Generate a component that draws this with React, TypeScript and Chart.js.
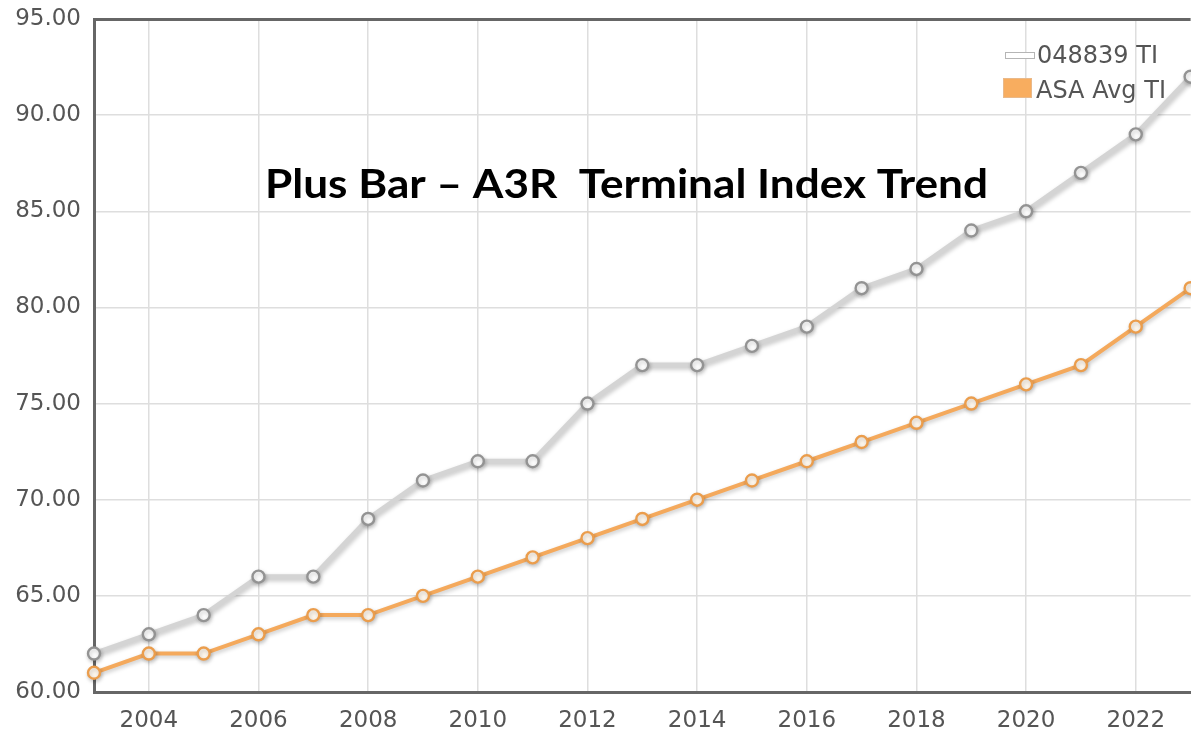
import React, { useEffect, useRef } from "react";
import { Chart, registerables } from "chart.js";

Chart.register(...registerables);

const years = [2003, 2004, 2005, 2006, 2007, 2008, 2009, 2010, 2011, 2012, 2013, 2014, 2015, 2016, 2017, 2018, 2019, 2020, 2021, 2022, 2023];
const seriesTI = [62, 63, 64, 66, 66, 69, 71, 72, 72, 75, 77, 77, 78, 79, 81, 82, 84, 85, 87, 89, 92];
const seriesAvg = [61, 62, 62, 63, 64, 64, 65, 66, 67, 68, 69, 70, 71, 72, 73, 74, 75, 76, 77, 79, 81];
const xTickYears = [2004, 2006, 2008, 2010, 2012, 2014, 2016, 2018, 2020, 2022];
const legendLabels = ["048839 TI", "ASA Avg TI"];
const titleText = "Plus Bar \u2013 A3R  Terminal Index Trend";

const FONT = "'DejaVu Sans', Verdana, sans-serif";

const shadowPlugin = {
  id: "lineShadow",
  beforeDatasetDraw(chart: any) {
    const ctx = chart.ctx;
    ctx.save();
    ctx.shadowColor = "rgba(0,0,0,0.22)";
    ctx.shadowBlur = 4;
    ctx.shadowOffsetX = 1;
    ctx.shadowOffsetY = 2;
  },
  afterDatasetDraw(chart: any) {
    chart.ctx.restore();
  },
};

const overlayPlugin = {
  id: "overlay",
  afterDraw(chart: any) {
    const ctx = chart.ctx;
    ctx.save();
    // Title
    ctx.font = "bold 41px Lato, 'Open Sans', sans-serif";
    ctx.fillStyle = "#000";
    ctx.textBaseline = "alphabetic";
    ctx.textAlign = "left";
    const w = ctx.measureText(titleText).width;
    const targetW = 723;
    ctx.save();
    ctx.translate(265, 198);
    ctx.scale(targetW / w, 1);
    ctx.fillText(titleText, 0, 0);
    ctx.restore();

    // Legend
    ctx.fillStyle = "#ffffff";
    ctx.fillRect(1005, 52, 30, 6);
    ctx.strokeStyle = "#b5b5b5";
    ctx.lineWidth = 1;
    ctx.strokeRect(1005.5, 52.5, 29, 6);

    ctx.fillStyle = "#f8ad5f";
    ctx.fillRect(1003, 78, 29, 20);
    ctx.strokeStyle = "#e9b98a";
    ctx.strokeRect(1003.5, 78.5, 28, 19);

    ctx.font = "24px " + FONT;
    ctx.fillStyle = "#555555";
    ctx.fillText(legendLabels[0], 1037, 63);
    ctx.fillText(legendLabels[1], 1036, 98);
    ctx.restore();
  },
};

export default function App() {
  const canvasRef = useRef<HTMLCanvasElement | null>(null);

  useEffect(() => {
    document.body.style.margin = "0";
    const canvas = canvasRef.current;
    if (!canvas) return;
    const chart = new Chart(canvas, {
      type: "line",
      data: {
        datasets: [
          {
            label: legendLabels[0],
            data: years.map((y, i) => ({ x: y, y: seriesTI[i] })),
            borderColor: "#d4d4d4",
            borderWidth: 5,
            pointRadius: 6,
            pointBorderWidth: 2.4,
            pointBorderColor: "#939393",
            pointBackgroundColor: "#ffffff",
            tension: 0,
            clip: false as any,
          },
          {
            label: legendLabels[1],
            data: years.map((y, i) => ({ x: y, y: seriesAvg[i] })),
            borderColor: "#f4a95c",
            borderWidth: 4,
            pointRadius: 6,
            pointBorderWidth: 2.4,
            pointBorderColor: "#eb9d4c",
            pointBackgroundColor: "#fff8ee",
            tension: 0,
            clip: false as any,
          },
        ],
      },
      options: {
        responsive: false,
        animation: false,
        layout: { padding: { top: 19, right: 1, left: 0, bottom: 0 } },
        plugins: {
          legend: { display: false },
          tooltip: { enabled: false },
          title: { display: false },
        },
        scales: {
          x: {
            type: "linear",
            min: 2003,
            max: 2023,
            afterBuildTicks: (scale: any) => {
              scale.ticks = xTickYears.map((v) => ({ value: v }));
            },
            afterFit: (scale: any) => {
              scale.height = 42;
              scale.paddingLeft = 0;
              scale.paddingRight = 0;
            },
            ticks: {
              font: { family: FONT, size: 23 },
              color: "#555555",
              padding: 15,
              maxRotation: 0,
              autoSkip: false,
              callback: (v: any) => String(v),
            },
            grid: { color: "#dedede", lineWidth: 1.5, drawTicks: false },
            border: { display: true, color: "#666666", width: 3 },
          },
          y: {
            type: "linear",
            min: 60,
            max: 95,
            afterFit: (scale: any) => {
              scale.width = 94;
              scale.paddingTop = 0;
              scale.paddingBottom = 0;
            },
            ticks: {
              stepSize: 5,
              font: { family: FONT, size: 23 },
              color: "#555555",
              padding: 13,
              callback: (v: any) => Number(v).toFixed(2),
            },
            grid: {
              color: (c: any) => (c.tick && c.tick.value === 95 ? "#666666" : "#dedede"),
              lineWidth: (c: any) => (c.tick && c.tick.value === 95 ? 3 : 1.5),
              drawTicks: false,
            },
            border: { display: true, color: "#666666", width: 3 },
          },
        },
      },
      plugins: [shadowPlugin, overlayPlugin],
    });
    return () => chart.destroy();
  }, []);

  return (
    <div style={{ position: "fixed", left: 0, top: 0, width: 1191, height: 734, background: "#fff", overflow: "hidden" }}>
      <canvas ref={canvasRef} width={1199} height={734} style={{ display: "block" }} />
    </div>
  );
}
